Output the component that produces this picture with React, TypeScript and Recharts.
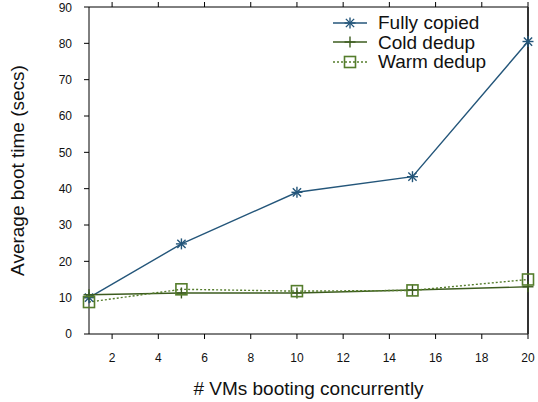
import { LineChart, Line, XAxis, YAxis } from "recharts";

const vms = [1, 5, 10, 15, 20];
const fullyCopied = [10, 24.8, 39, 43.3, 80.5];
const coldDedup = [10.8, 11.3, 11.3, 12.1, 13];
const warmDedup = [8.8, 12.3, 11.8, 12, 15];

const xTicks = [2, 4, 6, 8, 10, 12, 14, 16, 18, 20];
const yTicks = [0, 10, 20, 30, 40, 50, 60, 70, 80, 90];

const BLUE = "#24567a";
const DARK_GREEN = "#3d5c1f";
const GREEN = "#557d2c";
const FONT = "Liberation Sans, Arial, sans-serif";

const data = vms.map((vm, i) => ({
  vm,
  fully: fullyCopied[i],
  cold: coldDedup[i],
  warm: warmDedup[i],
}));

const Star = ({ cx, cy, r = 5.5, color }: any) => (
  <g stroke={color} strokeWidth={1.4}>
    <line x1={cx - r} y1={cy} x2={cx + r} y2={cy} />
    <line x1={cx} y1={cy - r} x2={cx} y2={cy + r} />
    <line x1={cx - r * 0.75} y1={cy - r * 0.75} x2={cx + r * 0.75} y2={cy + r * 0.75} />
    <line x1={cx - r * 0.75} y1={cy + r * 0.75} x2={cx + r * 0.75} y2={cy - r * 0.75} />
  </g>
);

const Plus = ({ cx, cy, r = 5.5, color }: any) => (
  <g stroke={color} strokeWidth={1.4}>
    <line x1={cx - r} y1={cy} x2={cx + r} y2={cy} />
    <line x1={cx} y1={cy - r} x2={cx} y2={cy + r} />
  </g>
);

const Square = ({ cx, cy, r = 5.5, color }: any) => (
  <rect x={cx - r} y={cy - r} width={r * 2} height={r * 2} fill="none" stroke={color} strokeWidth={1.6} />
);

const NoLabel = () => <g />;

const legendRows = [
  { name: "Fully copied", color: BLUE, dash: undefined, Mark: Star },
  { name: "Cold dedup", color: DARK_GREEN, dash: undefined, Mark: Plus },
  { name: "Warm dedup", color: GREEN, dash: "2 2", Mark: Square },
];

const LegendBox = () => (
  <div style={{ position: "absolute", top: 13, left: 333 }}>
    {legendRows.map((row) => (
      <div key={row.name} style={{ display: "flex", alignItems: "center", height: 19.5 }}>
        <svg width={45} height={16}>
          <line x1={0} y1={8} x2={34} y2={8} stroke={row.color} strokeWidth={1.4} strokeDasharray={row.dash} />
          <row.Mark cx={17} cy={8} color={row.color} />
        </svg>
        <span style={{ fontFamily: FONT, fontSize: 19, color: "#111", lineHeight: "19px" }}>{row.name}</span>
      </div>
    ))}
  </div>
);

export default function App() {
  return (
    <div style={{ position: "absolute", left: 0, top: 0, width: 538, height: 402, background: "#fff" }}>
      <LineChart width={538} height={402} data={data} margin={{ top: 0, right: 0, bottom: 0, left: 0 }}>
        <XAxis
          dataKey="vm"
          type="number"
          domain={[1, 20]}
          ticks={xTicks}
          height={68}
          tickSize={5}
          tickMargin={14}
          stroke="#000"
          tick={{ fill: "#111", fontSize: 12, fontFamily: FONT }}
          label={{ value: "# VMs booting concurrently", position: "insideBottom", offset: 7, fill: "#111", fontSize: 19, fontFamily: FONT }}
        />
        <XAxis
          xAxisId="top"
          orientation="top"
          dataKey="vm"
          type="number"
          domain={[1, 20]}
          ticks={xTicks}
          height={7}
          tickSize={5}
          tick={NoLabel}
          stroke="#000"
        />
        <YAxis
          domain={[0, 90]}
          ticks={yTicks}
          width={89}
          tickSize={5}
          tickMargin={12}
          stroke="#000"
          tick={{ fill: "#111", fontSize: 12, fontFamily: FONT }}
          label={{ value: "Average boot time (secs)", angle: -90, position: "insideLeft", offset: 17, fill: "#111", fontSize: 19, fontFamily: FONT, style: { textAnchor: "middle" } }}
        />
        <YAxis
          yAxisId="right"
          orientation="right"
          domain={[0, 90]}
          ticks={yTicks}
          width={10}
          tickSize={5}
          tick={NoLabel}
          stroke="#333"
          strokeWidth={2}
        />
        <Line
          dataKey="fully"
          name="Fully copied"
          stroke={BLUE}
          strokeWidth={1.4}
          isAnimationActive={false}
          dot={(p: any) => <Star key={p.index} cx={p.cx} cy={p.cy} color={BLUE} />}
          activeDot={false}
        />
        <Line
          dataKey="cold"
          name="Cold dedup"
          stroke={DARK_GREEN}
          strokeWidth={1.4}
          isAnimationActive={false}
          dot={(p: any) => <Plus key={p.index} cx={p.cx} cy={p.cy} color={DARK_GREEN} />}
          activeDot={false}
        />
        <Line
          dataKey="warm"
          name="Warm dedup"
          stroke={GREEN}
          strokeWidth={1.4}
          strokeDasharray="2 2"
          isAnimationActive={false}
          dot={(p: any) => <Square key={p.index} cx={p.cx} cy={p.cy} color={GREEN} />}
          activeDot={false}
        />
      </LineChart>
      <LegendBox />
    </div>
  );
}
